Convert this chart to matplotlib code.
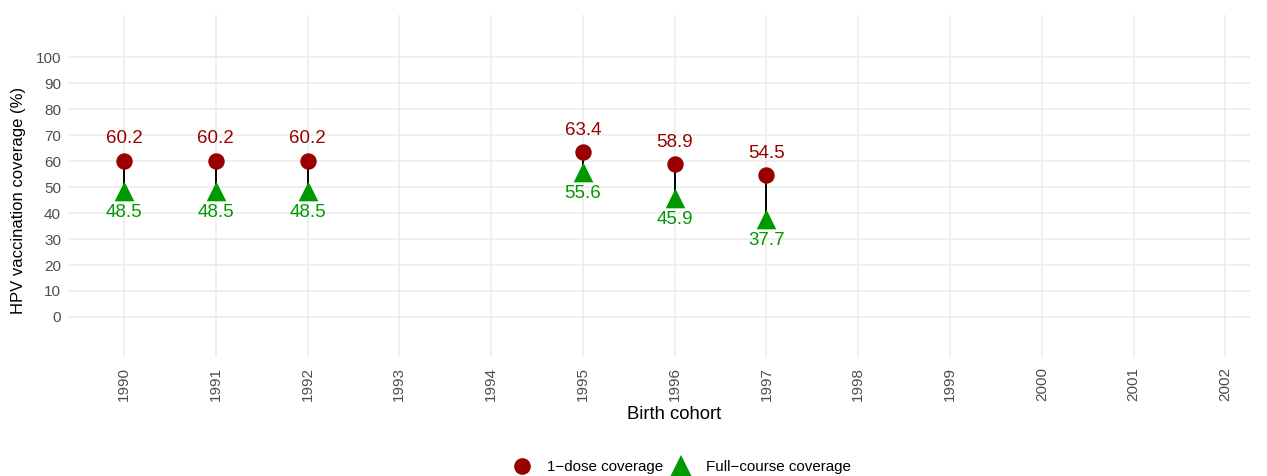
import numpy as np
import matplotlib.pyplot as plt
from matplotlib.lines import Line2D

plt.rcParams['font.family'] = ['Liberation Sans', 'DejaVu Sans']

# coverage by birth cohort
cohorts = [1990, 1991, 1992, 1995, 1996, 1997]
one_dose = [60.2, 60.2, 60.2, 63.4, 58.9, 54.5]
full_course = [48.5, 48.5, 48.5, 55.6, 45.9, 37.7]
all_years = list(range(1990, 2003))
y_ticks = list(range(0, 101, 10))

red = '#990000'
green = '#009900'
grid = '#ebebeb'

fig = plt.figure(figsize=(12.67, 4.76), dpi=100)
ax = fig.add_axes([0.0537, 0.25, 0.933, 0.7185])

# dumbbell segments
for x, a, b in zip(cohorts, one_dose, full_course):
    ax.plot([x, x], [a, b], color='black', lw=1.4, zorder=2)

ax.scatter(cohorts, one_dose, s=140, marker='o', color=red, zorder=3, linewidths=0)
ax.scatter(cohorts, full_course, s=200, marker='^', color=green, zorder=3, linewidths=0)

for x, a, b in zip(cohorts, one_dose, full_course):
    ax.text(x, a + 8.4, f'{a:.1f}', color=red, fontsize=13.5, ha='center', va='center')
    ax.text(x, b - 8.2, f'{b:.1f}', color=green, fontsize=13.5, ha='center', va='center')

ax.set_xlim(1989.39, 2002.27)
ax.set_ylim(-15.4, 116.2)
ax.set_xticks(all_years)
ax.set_xticklabels([str(y) for y in all_years], rotation=90)
ax.set_yticks(y_ticks)
ax.grid(True, color=grid, lw=1.1)
ax.set_axisbelow(True)
for s in ax.spines.values():
    s.set_visible(False)
ax.tick_params(length=0, labelsize=11, labelcolor='#4d4d4d', pad=5)
ax.tick_params(axis='x', pad=7)

ax.set_xlabel('Birth cohort', fontsize=13.3)
ax.set_ylabel('HPV vaccination coverage (%)', fontsize=12)
ax.xaxis.set_label_coords(0.513, -0.142)
ax.yaxis.set_label_coords(-0.0355, 0.459)

handles = [
    Line2D([], [], marker='o', color=red, ls='', markersize=12, markeredgewidth=0),
    Line2D([], [], marker='^', color=green, ls='', markersize=16, markeredgewidth=0),
]
fig.legend(handles, ['1\u2212dose coverage', 'Full\u2212course coverage'],
           loc='center', bbox_to_anchor=(0.538, 0.019), ncol=2, frameon=False,
           fontsize=10.9, handletextpad=1.0, columnspacing=0.5, handlelength=1.3)

fig.savefig('out.png', dpi=100)
